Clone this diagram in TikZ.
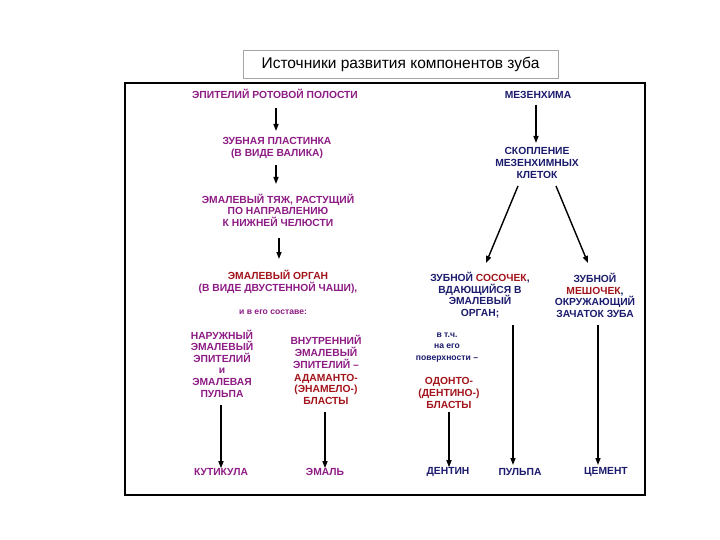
\documentclass[tikz,border=0pt]{standalone}
\usepackage{fontspec}
\setmainfont{Liberation Sans}
\usetikzlibrary{arrows.meta}
\definecolor{mag}{HTML}{8E1C85}
\definecolor{dred}{HTML}{A3141C}
\definecolor{navy}{HTML}{1C1C6E}
\begin{document}
\begin{tikzpicture}[x=1pt,y=-1pt,
  t/.style={align=center,font=\bfseries\fontsize{10.3}{11.6}\selectfont,inner sep=0pt},
  sm/.style={align=center,font=\bfseries\fontsize{8.6}{11.6}\selectfont,inner sep=0pt},
  arr/.style={-{Triangle[length=7pt,width=5pt]},line width=1.4pt}]
\useasboundingbox (0,0) rectangle (720,540);
\fill[white] (0,0) rectangle (720,540);
\node[draw=gray!70,line width=0.6pt,minimum width=315pt,minimum height=28pt,inner sep=0pt,font=\fontsize{15.5}{17}\selectfont] (title) at (400.5,64) {Источники развития компонентов зуба};
\draw[line width=1.6pt] (125,83) rectangle (645,495);
% left column
\node[t,mag] (ep) at (275,94) {ЭПИТЕЛИЙ РОТОВОЙ ПОЛОСТИ};
\node[t,mag] (zp) at (277,148) {ЗУБНАЯ ПЛАСТИНКА\\(В ВИДЕ ВАЛИКА)};
\node[t,mag] (et) at (278,210) {ЭМАЛЕВЫЙ ТЯЖ, РАСТУЩИЙ\\ПО НАПРАВЛЕНИЮ\\К НИЖНЕЙ ЧЕЛЮСТИ};
\node[t] (eo) at (278,282) {\color{dred}ЭМАЛЕВЫЙ ОРГАН\\\color{mag}(В ВИДЕ ДВУСТЕННОЙ ЧАШИ),};
\node[sm,mag] (sost) at (273,312) {и в его составе:};
\node[t,mag] (nar) at (222,363.5) {НАРУЖНЫЙ\\ЭМАЛЕВЫЙ\\ЭПИТЕЛИЙ\\и\\ЭМАЛЕВАЯ\\ПУЛЬПА};
\node[t] (vn) at (326,370) {\color{mag}ВНУТРЕННИЙ\\\color{mag}ЭМАЛЕВЫЙ\\\color{mag}ЭПИТЕЛИЙ –\\[1.5pt]\color{dred}АДАМАНТО-\\\color{dred}(ЭНАМЕЛО-)\\\color{dred}БЛАСТЫ};
\node[t,mag] (kut) at (221,472) {КУТИКУЛА};
\node[t,mag] (em) at (325,472) {ЭМАЛЬ};
\coordinate (a1s) at (276,108); \coordinate (a1e) at (276,131);
\coordinate (a2s) at (276,165); \coordinate (a2e) at (276,184);
\coordinate (a3s) at (279,238); \coordinate (a3e) at (279,259);
\draw[arr] (a1s) -- (a1e);
\draw[arr] (a2s) -- (a2e);
\draw[arr] (a3s) -- (a3e);
\draw[arr] (221,405) -- (kut.north -| 221,0);
\draw[arr] (325,412) -- (em.north);
% right column
\node[t,navy] (mez) at (538,95) {МЕЗЕНХИМА};
\node[t,navy] (sk) at (537,163) {СКОПЛЕНИЕ\\МЕЗЕНХИМНЫХ\\КЛЕТОК};
\node[t] (sos) at (480,295) {\color{navy}ЗУБНОЙ \color{dred}СОСОЧЕК\color{navy},\\\color{navy}ВДАЮЩИЙСЯ В\\\color{navy}ЭМАЛЕВЫЙ\\\color{navy}ОРГАН;};
\node[t] (mesh) at (595,295.5) {\color{navy}ЗУБНОЙ\\\color{dred}МЕШОЧЕК\color{navy},\\\color{navy}ОКРУЖАЮЩИЙ\\\color{navy}ЗАЧАТОК ЗУБА};
\node[sm,navy] (vtch) at (447,347.5) {в т.ч.\\на его\\поверхности –};
\node[t,dred] (od) at (449,393) {ОДОНТО-\\(ДЕНТИНО-)\\БЛАСТЫ};
\node[t,navy] (den) at (448,472) {ДЕНТИН};
\node[t,navy] (pul) at (520,472) {ПУЛЬПА};
\node[t,navy] (cem) at (606,472) {ЦЕМЕНТ};
\draw[arr] (mez.south -| 536,0) ++(0,6) -- (536,143);
\draw[arr] (518,186) -- (486,263);
\draw[arr] (556,186) -- (588,263);
\draw[arr] (449,412) -- (den.north -| 449,0);
\draw[arr] (513,325) -- (513,465);
\draw[arr] (598,325) -- (598,465);
\end{tikzpicture}
\end{document}
